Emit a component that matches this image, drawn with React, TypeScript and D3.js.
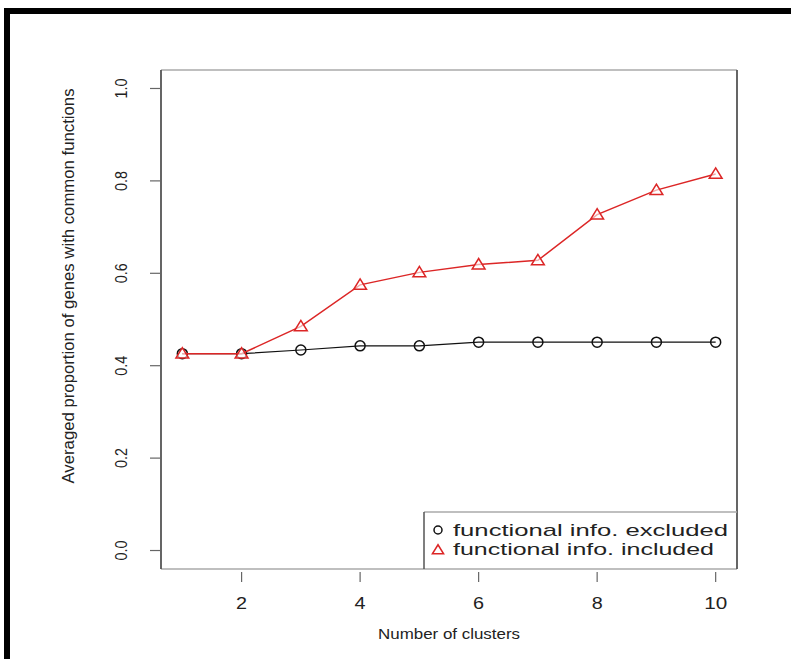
import React from "react";
import { scaleLinear, line } from "d3";

const width = 791;
const height = 659;

// number of clusters on the x axis
const clusters = [1, 2, 3, 4, 5, 6, 7, 8, 9, 10];
const excluded = [0.426, 0.426, 0.434, 0.443, 0.443, 0.451, 0.451, 0.451, 0.451, 0.451];
const included = [0.426, 0.426, 0.485, 0.575, 0.602, 0.619, 0.628, 0.727, 0.780, 0.815];
const xTicks = [2, 4, 6, 8, 10];
const yTicks = [0, 0.2, 0.4, 0.6, 0.8, 1.0];
const legendLabels = ["functional info. excluded", "functional info. included"];

const box = { left: 161, right: 737, top: 70, bottom: 569 };
const red = "#dc2626";
const font = "'Liberation Sans', Arial, sans-serif";

export default function App() {
  const xScale = scaleLinear().domain([0.64, 10.36]).range([box.left, box.right]);
  const yScale = scaleLinear().domain([-0.04, 1.04]).range([box.bottom, box.top]);

  const pathGen = line<number>()
    .x((d, i) => xScale(clusters[i]))
    .y((d) => yScale(d));

  const tri = (cx: number, cy: number, s: number) =>
    `M${cx},${cy - s * 0.75} L${cx + s * 0.8},${cy + s * 0.55} L${cx - s * 0.8},${cy + s * 0.55} Z`;

  return (
    <svg
      width={width}
      height={height}
      style={{ position: "absolute", left: 0, top: 0, background: "#fff" }}
    >
      {/* black frame, top and left only */}
      <rect x={4} y={8} width={width - 4} height={6} fill="#000" />
      <rect x={4} y={8} width={6} height={height - 8} fill="#000" />

      {/* plot box */}
      <line x1={box.left} x2={box.right} y1={box.top} y2={box.top} stroke="#aaa" strokeWidth={1.5} />
      <line x1={box.left} x2={box.right} y1={box.bottom} y2={box.bottom} stroke="#aaa" strokeWidth={1.5} />
      <line x1={box.left} x2={box.left} y1={box.top} y2={box.bottom} stroke="#555" strokeWidth={1.8} />
      <line x1={box.right} x2={box.right} y1={box.top} y2={box.bottom} stroke="#555" strokeWidth={1.8} />

      {/* y axis */}
      {yTicks.map((t) => (
        <g key={t}>
          <line x1={150} x2={box.left} y1={yScale(t)} y2={yScale(t)} stroke="#666" strokeWidth={1.2} />
          <text
            transform={`translate(127,${yScale(t)}) rotate(-90)`}
            textAnchor="middle"
            fontFamily={font}
            fontSize={16}
            fill="#222"
            textLength={20}
            lengthAdjust="spacingAndGlyphs"
          >
            {t.toFixed(1)}
          </text>
        </g>
      ))}
      <text
        transform={`translate(74,286) rotate(-90)`}
        textAnchor="middle"
        fontFamily={font}
        fontSize={16}
        fill="#222"
        textLength={395}
        lengthAdjust="spacingAndGlyphs"
      >
        Averaged proportion of genes with common functions
      </text>

      {/* x axis */}
      {xTicks.map((t) => (
        <g key={t}>
          <line x1={xScale(t)} x2={xScale(t)} y1={572} y2={582} stroke="#666" strokeWidth={1.2} />
          <text
            x={xScale(t)}
            y={609}
            textAnchor="middle"
            fontFamily={font}
            fontSize={16}
            fill="#222"
            textLength={t < 10 ? 11 : 23}
            lengthAdjust="spacingAndGlyphs"
          >
            {t}
          </text>
        </g>
      ))}
      <text
        x={(box.left + box.right) / 2}
        y={639}
        textAnchor="middle"
        fontFamily={font}
        fontSize={15}
        fill="#222"
        textLength={142}
        lengthAdjust="spacingAndGlyphs"
      >
        Number of clusters
      </text>

      {/* series */}
      <path d={pathGen(excluded) || ""} fill="none" stroke="#111" strokeWidth={1.2} />
      {excluded.map((v, i) => (
        <circle key={"c" + i} cx={xScale(clusters[i])} cy={yScale(v)} r={5} fill="none" stroke="#111" strokeWidth={1.5} />
      ))}
      <path d={pathGen(included) || ""} fill="none" stroke={red} strokeWidth={1.5} />
      {included.map((v, i) => (
        <path key={"t" + i} d={tri(xScale(clusters[i]), yScale(v), 8)} fill="#fff" fillOpacity={0.6} stroke={red} strokeWidth={1.5} />
      ))}

      {/* legend */}
      <line x1={424} x2={box.right} y1={512} y2={512} stroke="#aaa" strokeWidth={1.5} />
      <line x1={424} x2={424} y1={512} y2={box.bottom} stroke="#555" strokeWidth={1.5} />
      <circle cx={438} cy={530} r={4} fill="none" stroke="#111" strokeWidth={1.5} />
      <path d={tri(438, 550, 7)} fill="none" stroke={red} strokeWidth={1.5} />
      {legendLabels.map((l, i) => (
        <text
          key={l}
          x={453}
          y={536 + i * 19}
          fontFamily={font}
          fontSize={17}
          fill="#222"
          textLength={i === 0 ? 275 : 261}
          lengthAdjust="spacingAndGlyphs"
        >
          {l}
        </text>
      ))}
    </svg>
  );
}
